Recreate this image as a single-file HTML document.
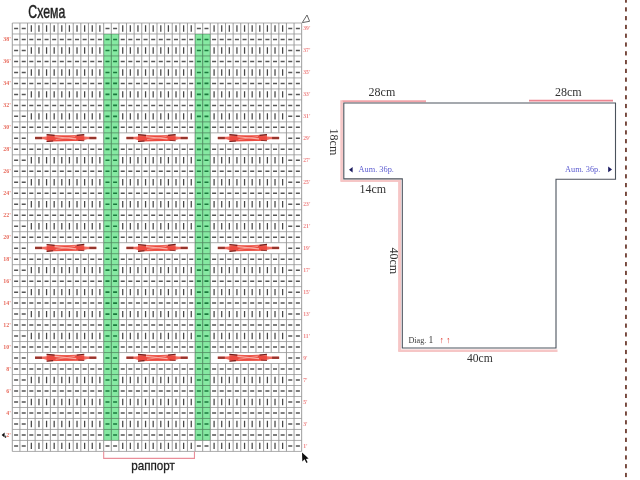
<!DOCTYPE html><html><head><meta charset="utf-8"><title>Схема</title>
<style>html,body{margin:0;padding:0;background:#fff;}body{width:640px;height:480px;overflow:hidden;font-family:"Liberation Sans",sans-serif;}svg{display:block;position:absolute;left:0;top:0;}text{font-family:"Liberation Serif",serif;}.ss{font-family:"Liberation Sans",sans-serif;}</style></head><body>
<svg width="640" height="480" viewBox="0 0 640 480">
<defs><filter id="b1" x="-5%" y="-5%" width="110%" height="110%"><feGaussianBlur stdDeviation="0.58"/></filter><filter id="b2" x="-20%" y="-50%" width="140%" height="200%"><feGaussianBlur stdDeviation="0.6"/></filter></defs>
<rect width="640" height="480" fill="#fff"/>
<g filter="url(#b1)">
<path d="M12.3 23H301.67M12.3 33.98H301.67M12.3 44.97H301.67M12.3 55.95H301.67M12.3 66.94H301.67M12.3 77.92H301.67M12.3 88.91H301.67M12.3 99.89H301.67M12.3 110.88H301.67M12.3 121.86H301.67M12.3 132.85H301.67M12.3 143.83H301.67M12.3 154.82H301.67M12.3 165.81H301.67M12.3 176.79H301.67M12.3 187.77H301.67M12.3 198.76H301.67M12.3 209.75H301.67M12.3 220.73H301.67M12.3 231.71H301.67M12.3 242.7H301.67M12.3 253.69H301.67M12.3 264.67H301.67M12.3 275.65H301.67M12.3 286.64H301.67M12.3 297.62H301.67M12.3 308.61H301.67M12.3 319.59H301.67M12.3 330.58H301.67M12.3 341.56H301.67M12.3 352.55H301.67M12.3 363.53H301.67M12.3 374.52H301.67M12.3 385.5H301.67M12.3 396.49H301.67M12.3 407.47H301.67M12.3 418.46H301.67M12.3 429.44H301.67M12.3 440.43H301.67M12.3 451.41H301.67" stroke="#adadad" stroke-width="1" fill="none"/>
<path d="M12.3 23V451.41M19.91 23V451.41M27.53 23V451.41M35.14 23V132.85M35.14 143.83V242.7M35.14 253.69V352.55M35.14 363.53V451.41M42.76 23V132.85M42.76 143.83V242.7M42.76 253.69V352.55M42.76 363.53V451.41M50.38 23V132.85M50.38 143.83V242.7M50.38 253.69V352.55M50.38 363.53V451.41M57.99 23V132.85M57.99 143.83V242.7M57.99 253.69V352.55M57.99 363.53V451.41M65.61 23V132.85M65.61 143.83V242.7M65.61 253.69V352.55M65.61 363.53V451.41M73.22 23V132.85M73.22 143.83V242.7M73.22 253.69V352.55M73.22 363.53V451.41M80.83 23V132.85M80.83 143.83V242.7M80.83 253.69V352.55M80.83 363.53V451.41M88.45 23V132.85M88.45 143.83V242.7M88.45 253.69V352.55M88.45 363.53V451.41M96.06 23V132.85M96.06 143.83V242.7M96.06 253.69V352.55M96.06 363.53V451.41M103.68 23V451.41M111.3 23V451.41M118.91 23V451.41M126.53 23V132.85M126.53 143.83V242.7M126.53 253.69V352.55M126.53 363.53V451.41M134.14 23V132.85M134.14 143.83V242.7M134.14 253.69V352.55M134.14 363.53V451.41M141.76 23V132.85M141.76 143.83V242.7M141.76 253.69V352.55M141.76 363.53V451.41M149.37 23V132.85M149.37 143.83V242.7M149.37 253.69V352.55M149.37 363.53V451.41M156.99 23V132.85M156.99 143.83V242.7M156.99 253.69V352.55M156.99 363.53V451.41M164.6 23V132.85M164.6 143.83V242.7M164.6 253.69V352.55M164.6 363.53V451.41M172.22 23V132.85M172.22 143.83V242.7M172.22 253.69V352.55M172.22 363.53V451.41M179.83 23V132.85M179.83 143.83V242.7M179.83 253.69V352.55M179.83 363.53V451.41M187.45 23V132.85M187.45 143.83V242.7M187.45 253.69V352.55M187.45 363.53V451.41M195.06 23V451.41M202.68 23V451.41M210.29 23V451.41M217.91 23V132.85M217.91 143.83V242.7M217.91 253.69V352.55M217.91 363.53V451.41M225.52 23V132.85M225.52 143.83V242.7M225.52 253.69V352.55M225.52 363.53V451.41M233.14 23V132.85M233.14 143.83V242.7M233.14 253.69V352.55M233.14 363.53V451.41M240.75 23V132.85M240.75 143.83V242.7M240.75 253.69V352.55M240.75 363.53V451.41M248.37 23V132.85M248.37 143.83V242.7M248.37 253.69V352.55M248.37 363.53V451.41M255.98 23V132.85M255.98 143.83V242.7M255.98 253.69V352.55M255.98 363.53V451.41M263.6 23V132.85M263.6 143.83V242.7M263.6 253.69V352.55M263.6 363.53V451.41M271.21 23V132.85M271.21 143.83V242.7M271.21 253.69V352.55M271.21 363.53V451.41M278.83 23V132.85M278.83 143.83V242.7M278.83 253.69V352.55M278.83 363.53V451.41M286.44 23V451.41M294.06 23V451.41M301.67 23V451.41" stroke="#989898" stroke-width="0.95" fill="none"/>
<path d="M14.11 28.49h4M21.72 28.49h4M105.49 28.49h4M113.1 28.49h4M196.87 28.49h4M204.48 28.49h4M288.25 28.49h4M295.86 28.49h4M14.11 39.48h4M21.72 39.48h4M29.34 39.48h4M36.95 39.48h4M44.57 39.48h4M52.18 39.48h4M59.8 39.48h4M67.41 39.48h4M75.03 39.48h4M82.64 39.48h4M90.26 39.48h4M97.87 39.48h4M120.72 39.48h4M128.33 39.48h4M135.95 39.48h4M143.56 39.48h4M151.18 39.48h4M158.79 39.48h4M166.41 39.48h4M174.02 39.48h4M181.64 39.48h4M189.25 39.48h4M212.1 39.48h4M219.71 39.48h4M227.33 39.48h4M234.94 39.48h4M242.56 39.48h4M250.17 39.48h4M257.79 39.48h4M265.4 39.48h4M273.02 39.48h4M280.63 39.48h4M288.25 39.48h4M295.86 39.48h4M14.11 50.46h4M21.72 50.46h4M288.25 50.46h4M295.86 50.46h4M14.11 61.45h4M21.72 61.45h4M29.34 61.45h4M36.95 61.45h4M44.57 61.45h4M52.18 61.45h4M59.8 61.45h4M67.41 61.45h4M75.03 61.45h4M82.64 61.45h4M90.26 61.45h4M97.87 61.45h4M120.72 61.45h4M128.33 61.45h4M135.95 61.45h4M143.56 61.45h4M151.18 61.45h4M158.79 61.45h4M166.41 61.45h4M174.02 61.45h4M181.64 61.45h4M189.25 61.45h4M212.1 61.45h4M219.71 61.45h4M227.33 61.45h4M234.94 61.45h4M242.56 61.45h4M250.17 61.45h4M257.79 61.45h4M265.4 61.45h4M273.02 61.45h4M280.63 61.45h4M288.25 61.45h4M295.86 61.45h4M14.11 72.43h4M21.72 72.43h4M288.25 72.43h4M295.86 72.43h4M14.11 83.42h4M21.72 83.42h4M29.34 83.42h4M36.95 83.42h4M44.57 83.42h4M52.18 83.42h4M59.8 83.42h4M67.41 83.42h4M75.03 83.42h4M82.64 83.42h4M90.26 83.42h4M97.87 83.42h4M120.72 83.42h4M128.33 83.42h4M135.95 83.42h4M143.56 83.42h4M151.18 83.42h4M158.79 83.42h4M166.41 83.42h4M174.02 83.42h4M181.64 83.42h4M189.25 83.42h4M212.1 83.42h4M219.71 83.42h4M227.33 83.42h4M234.94 83.42h4M242.56 83.42h4M250.17 83.42h4M257.79 83.42h4M265.4 83.42h4M273.02 83.42h4M280.63 83.42h4M288.25 83.42h4M295.86 83.42h4M14.11 94.4h4M21.72 94.4h4M288.25 94.4h4M295.86 94.4h4M14.11 105.39h4M21.72 105.39h4M29.34 105.39h4M36.95 105.39h4M44.57 105.39h4M52.18 105.39h4M59.8 105.39h4M67.41 105.39h4M75.03 105.39h4M82.64 105.39h4M90.26 105.39h4M97.87 105.39h4M120.72 105.39h4M128.33 105.39h4M135.95 105.39h4M143.56 105.39h4M151.18 105.39h4M158.79 105.39h4M166.41 105.39h4M174.02 105.39h4M181.64 105.39h4M189.25 105.39h4M212.1 105.39h4M219.71 105.39h4M227.33 105.39h4M234.94 105.39h4M242.56 105.39h4M250.17 105.39h4M257.79 105.39h4M265.4 105.39h4M273.02 105.39h4M280.63 105.39h4M288.25 105.39h4M295.86 105.39h4M14.11 116.37h4M21.72 116.37h4M288.25 116.37h4M295.86 116.37h4M14.11 127.36h4M21.72 127.36h4M29.34 127.36h4M36.95 127.36h4M44.57 127.36h4M52.18 127.36h4M59.8 127.36h4M67.41 127.36h4M75.03 127.36h4M82.64 127.36h4M90.26 127.36h4M97.87 127.36h4M120.72 127.36h4M128.33 127.36h4M135.95 127.36h4M143.56 127.36h4M151.18 127.36h4M158.79 127.36h4M166.41 127.36h4M174.02 127.36h4M181.64 127.36h4M189.25 127.36h4M212.1 127.36h4M219.71 127.36h4M227.33 127.36h4M234.94 127.36h4M242.56 127.36h4M250.17 127.36h4M257.79 127.36h4M265.4 127.36h4M273.02 127.36h4M280.63 127.36h4M288.25 127.36h4M295.86 127.36h4M14.11 138.34h4M21.72 138.34h4M288.25 138.34h4M295.86 138.34h4M14.11 149.33h4M21.72 149.33h4M29.34 149.33h4M36.95 149.33h4M44.57 149.33h4M52.18 149.33h4M59.8 149.33h4M67.41 149.33h4M75.03 149.33h4M82.64 149.33h4M90.26 149.33h4M97.87 149.33h4M120.72 149.33h4M128.33 149.33h4M135.95 149.33h4M143.56 149.33h4M151.18 149.33h4M158.79 149.33h4M166.41 149.33h4M174.02 149.33h4M181.64 149.33h4M189.25 149.33h4M212.1 149.33h4M219.71 149.33h4M227.33 149.33h4M234.94 149.33h4M242.56 149.33h4M250.17 149.33h4M257.79 149.33h4M265.4 149.33h4M273.02 149.33h4M280.63 149.33h4M288.25 149.33h4M295.86 149.33h4M14.11 160.31h4M21.72 160.31h4M288.25 160.31h4M295.86 160.31h4M14.11 171.3h4M21.72 171.3h4M29.34 171.3h4M36.95 171.3h4M44.57 171.3h4M52.18 171.3h4M59.8 171.3h4M67.41 171.3h4M75.03 171.3h4M82.64 171.3h4M90.26 171.3h4M97.87 171.3h4M120.72 171.3h4M128.33 171.3h4M135.95 171.3h4M143.56 171.3h4M151.18 171.3h4M158.79 171.3h4M166.41 171.3h4M174.02 171.3h4M181.64 171.3h4M189.25 171.3h4M212.1 171.3h4M219.71 171.3h4M227.33 171.3h4M234.94 171.3h4M242.56 171.3h4M250.17 171.3h4M257.79 171.3h4M265.4 171.3h4M273.02 171.3h4M280.63 171.3h4M288.25 171.3h4M295.86 171.3h4M14.11 182.28h4M21.72 182.28h4M288.25 182.28h4M295.86 182.28h4M14.11 193.27h4M21.72 193.27h4M29.34 193.27h4M36.95 193.27h4M44.57 193.27h4M52.18 193.27h4M59.8 193.27h4M67.41 193.27h4M75.03 193.27h4M82.64 193.27h4M90.26 193.27h4M97.87 193.27h4M120.72 193.27h4M128.33 193.27h4M135.95 193.27h4M143.56 193.27h4M151.18 193.27h4M158.79 193.27h4M166.41 193.27h4M174.02 193.27h4M181.64 193.27h4M189.25 193.27h4M212.1 193.27h4M219.71 193.27h4M227.33 193.27h4M234.94 193.27h4M242.56 193.27h4M250.17 193.27h4M257.79 193.27h4M265.4 193.27h4M273.02 193.27h4M280.63 193.27h4M288.25 193.27h4M295.86 193.27h4M14.11 204.25h4M21.72 204.25h4M288.25 204.25h4M295.86 204.25h4M14.11 215.24h4M21.72 215.24h4M29.34 215.24h4M36.95 215.24h4M44.57 215.24h4M52.18 215.24h4M59.8 215.24h4M67.41 215.24h4M75.03 215.24h4M82.64 215.24h4M90.26 215.24h4M97.87 215.24h4M120.72 215.24h4M128.33 215.24h4M135.95 215.24h4M143.56 215.24h4M151.18 215.24h4M158.79 215.24h4M166.41 215.24h4M174.02 215.24h4M181.64 215.24h4M189.25 215.24h4M212.1 215.24h4M219.71 215.24h4M227.33 215.24h4M234.94 215.24h4M242.56 215.24h4M250.17 215.24h4M257.79 215.24h4M265.4 215.24h4M273.02 215.24h4M280.63 215.24h4M288.25 215.24h4M295.86 215.24h4M14.11 226.22h4M21.72 226.22h4M288.25 226.22h4M295.86 226.22h4M14.11 237.21h4M21.72 237.21h4M29.34 237.21h4M36.95 237.21h4M44.57 237.21h4M52.18 237.21h4M59.8 237.21h4M67.41 237.21h4M75.03 237.21h4M82.64 237.21h4M90.26 237.21h4M97.87 237.21h4M120.72 237.21h4M128.33 237.21h4M135.95 237.21h4M143.56 237.21h4M151.18 237.21h4M158.79 237.21h4M166.41 237.21h4M174.02 237.21h4M181.64 237.21h4M189.25 237.21h4M212.1 237.21h4M219.71 237.21h4M227.33 237.21h4M234.94 237.21h4M242.56 237.21h4M250.17 237.21h4M257.79 237.21h4M265.4 237.21h4M273.02 237.21h4M280.63 237.21h4M288.25 237.21h4M295.86 237.21h4M14.11 248.19h4M21.72 248.19h4M288.25 248.19h4M295.86 248.19h4M14.11 259.18h4M21.72 259.18h4M29.34 259.18h4M36.95 259.18h4M44.57 259.18h4M52.18 259.18h4M59.8 259.18h4M67.41 259.18h4M75.03 259.18h4M82.64 259.18h4M90.26 259.18h4M97.87 259.18h4M120.72 259.18h4M128.33 259.18h4M135.95 259.18h4M143.56 259.18h4M151.18 259.18h4M158.79 259.18h4M166.41 259.18h4M174.02 259.18h4M181.64 259.18h4M189.25 259.18h4M212.1 259.18h4M219.71 259.18h4M227.33 259.18h4M234.94 259.18h4M242.56 259.18h4M250.17 259.18h4M257.79 259.18h4M265.4 259.18h4M273.02 259.18h4M280.63 259.18h4M288.25 259.18h4M295.86 259.18h4M14.11 270.16h4M21.72 270.16h4M288.25 270.16h4M295.86 270.16h4M14.11 281.15h4M21.72 281.15h4M29.34 281.15h4M36.95 281.15h4M44.57 281.15h4M52.18 281.15h4M59.8 281.15h4M67.41 281.15h4M75.03 281.15h4M82.64 281.15h4M90.26 281.15h4M97.87 281.15h4M120.72 281.15h4M128.33 281.15h4M135.95 281.15h4M143.56 281.15h4M151.18 281.15h4M158.79 281.15h4M166.41 281.15h4M174.02 281.15h4M181.64 281.15h4M189.25 281.15h4M212.1 281.15h4M219.71 281.15h4M227.33 281.15h4M234.94 281.15h4M242.56 281.15h4M250.17 281.15h4M257.79 281.15h4M265.4 281.15h4M273.02 281.15h4M280.63 281.15h4M288.25 281.15h4M295.86 281.15h4M14.11 292.13h4M21.72 292.13h4M288.25 292.13h4M295.86 292.13h4M14.11 303.12h4M21.72 303.12h4M29.34 303.12h4M36.95 303.12h4M44.57 303.12h4M52.18 303.12h4M59.8 303.12h4M67.41 303.12h4M75.03 303.12h4M82.64 303.12h4M90.26 303.12h4M97.87 303.12h4M120.72 303.12h4M128.33 303.12h4M135.95 303.12h4M143.56 303.12h4M151.18 303.12h4M158.79 303.12h4M166.41 303.12h4M174.02 303.12h4M181.64 303.12h4M189.25 303.12h4M212.1 303.12h4M219.71 303.12h4M227.33 303.12h4M234.94 303.12h4M242.56 303.12h4M250.17 303.12h4M257.79 303.12h4M265.4 303.12h4M273.02 303.12h4M280.63 303.12h4M288.25 303.12h4M295.86 303.12h4M14.11 314.1h4M21.72 314.1h4M288.25 314.1h4M295.86 314.1h4M14.11 325.09h4M21.72 325.09h4M29.34 325.09h4M36.95 325.09h4M44.57 325.09h4M52.18 325.09h4M59.8 325.09h4M67.41 325.09h4M75.03 325.09h4M82.64 325.09h4M90.26 325.09h4M97.87 325.09h4M120.72 325.09h4M128.33 325.09h4M135.95 325.09h4M143.56 325.09h4M151.18 325.09h4M158.79 325.09h4M166.41 325.09h4M174.02 325.09h4M181.64 325.09h4M189.25 325.09h4M212.1 325.09h4M219.71 325.09h4M227.33 325.09h4M234.94 325.09h4M242.56 325.09h4M250.17 325.09h4M257.79 325.09h4M265.4 325.09h4M273.02 325.09h4M280.63 325.09h4M288.25 325.09h4M295.86 325.09h4M14.11 336.07h4M21.72 336.07h4M288.25 336.07h4M295.86 336.07h4M14.11 347.06h4M21.72 347.06h4M29.34 347.06h4M36.95 347.06h4M44.57 347.06h4M52.18 347.06h4M59.8 347.06h4M67.41 347.06h4M75.03 347.06h4M82.64 347.06h4M90.26 347.06h4M97.87 347.06h4M120.72 347.06h4M128.33 347.06h4M135.95 347.06h4M143.56 347.06h4M151.18 347.06h4M158.79 347.06h4M166.41 347.06h4M174.02 347.06h4M181.64 347.06h4M189.25 347.06h4M212.1 347.06h4M219.71 347.06h4M227.33 347.06h4M234.94 347.06h4M242.56 347.06h4M250.17 347.06h4M257.79 347.06h4M265.4 347.06h4M273.02 347.06h4M280.63 347.06h4M288.25 347.06h4M295.86 347.06h4M14.11 358.04h4M21.72 358.04h4M288.25 358.04h4M295.86 358.04h4M14.11 369.03h4M21.72 369.03h4M29.34 369.03h4M36.95 369.03h4M44.57 369.03h4M52.18 369.03h4M59.8 369.03h4M67.41 369.03h4M75.03 369.03h4M82.64 369.03h4M90.26 369.03h4M97.87 369.03h4M120.72 369.03h4M128.33 369.03h4M135.95 369.03h4M143.56 369.03h4M151.18 369.03h4M158.79 369.03h4M166.41 369.03h4M174.02 369.03h4M181.64 369.03h4M189.25 369.03h4M212.1 369.03h4M219.71 369.03h4M227.33 369.03h4M234.94 369.03h4M242.56 369.03h4M250.17 369.03h4M257.79 369.03h4M265.4 369.03h4M273.02 369.03h4M280.63 369.03h4M288.25 369.03h4M295.86 369.03h4M14.11 380.01h4M21.72 380.01h4M288.25 380.01h4M295.86 380.01h4M14.11 391h4M21.72 391h4M29.34 391h4M36.95 391h4M44.57 391h4M52.18 391h4M59.8 391h4M67.41 391h4M75.03 391h4M82.64 391h4M90.26 391h4M97.87 391h4M120.72 391h4M128.33 391h4M135.95 391h4M143.56 391h4M151.18 391h4M158.79 391h4M166.41 391h4M174.02 391h4M181.64 391h4M189.25 391h4M212.1 391h4M219.71 391h4M227.33 391h4M234.94 391h4M242.56 391h4M250.17 391h4M257.79 391h4M265.4 391h4M273.02 391h4M280.63 391h4M288.25 391h4M295.86 391h4M14.11 401.98h4M21.72 401.98h4M288.25 401.98h4M295.86 401.98h4M14.11 412.97h4M21.72 412.97h4M29.34 412.97h4M36.95 412.97h4M44.57 412.97h4M52.18 412.97h4M59.8 412.97h4M67.41 412.97h4M75.03 412.97h4M82.64 412.97h4M90.26 412.97h4M97.87 412.97h4M120.72 412.97h4M128.33 412.97h4M135.95 412.97h4M143.56 412.97h4M151.18 412.97h4M158.79 412.97h4M166.41 412.97h4M174.02 412.97h4M181.64 412.97h4M189.25 412.97h4M212.1 412.97h4M219.71 412.97h4M227.33 412.97h4M234.94 412.97h4M242.56 412.97h4M250.17 412.97h4M257.79 412.97h4M265.4 412.97h4M273.02 412.97h4M280.63 412.97h4M288.25 412.97h4M295.86 412.97h4M14.11 423.95h4M21.72 423.95h4M288.25 423.95h4M295.86 423.95h4M14.11 434.94h4M21.72 434.94h4M29.34 434.94h4M36.95 434.94h4M44.57 434.94h4M52.18 434.94h4M59.8 434.94h4M67.41 434.94h4M75.03 434.94h4M82.64 434.94h4M90.26 434.94h4M97.87 434.94h4M120.72 434.94h4M128.33 434.94h4M135.95 434.94h4M143.56 434.94h4M151.18 434.94h4M158.79 434.94h4M166.41 434.94h4M174.02 434.94h4M181.64 434.94h4M189.25 434.94h4M212.1 434.94h4M219.71 434.94h4M227.33 434.94h4M234.94 434.94h4M242.56 434.94h4M250.17 434.94h4M257.79 434.94h4M265.4 434.94h4M273.02 434.94h4M280.63 434.94h4M288.25 434.94h4M295.86 434.94h4M14.11 445.92h4M21.72 445.92h4M105.49 445.92h4M113.1 445.92h4M196.87 445.92h4M204.48 445.92h4M288.25 445.92h4M295.86 445.92h4" stroke="#545454" stroke-width="1.5" fill="none"/>
<path d="M31.34 25.29v6.4M38.95 25.29v6.4M46.57 25.29v6.4M54.18 25.29v6.4M61.8 25.29v6.4M69.41 25.29v6.4M77.03 25.29v6.4M84.64 25.29v6.4M92.26 25.29v6.4M99.87 25.29v6.4M122.72 25.29v6.4M130.33 25.29v6.4M137.95 25.29v6.4M145.56 25.29v6.4M153.18 25.29v6.4M160.79 25.29v6.4M168.41 25.29v6.4M176.02 25.29v6.4M183.64 25.29v6.4M191.25 25.29v6.4M214.1 25.29v6.4M221.71 25.29v6.4M229.33 25.29v6.4M236.94 25.29v6.4M244.56 25.29v6.4M252.17 25.29v6.4M259.79 25.29v6.4M267.4 25.29v6.4M275.02 25.29v6.4M282.63 25.29v6.4M31.34 47.26v6.4M38.95 47.26v6.4M46.57 47.26v6.4M54.18 47.26v6.4M61.8 47.26v6.4M69.41 47.26v6.4M77.03 47.26v6.4M84.64 47.26v6.4M92.26 47.26v6.4M99.87 47.26v6.4M122.72 47.26v6.4M130.33 47.26v6.4M137.95 47.26v6.4M145.56 47.26v6.4M153.18 47.26v6.4M160.79 47.26v6.4M168.41 47.26v6.4M176.02 47.26v6.4M183.64 47.26v6.4M191.25 47.26v6.4M214.1 47.26v6.4M221.71 47.26v6.4M229.33 47.26v6.4M236.94 47.26v6.4M244.56 47.26v6.4M252.17 47.26v6.4M259.79 47.26v6.4M267.4 47.26v6.4M275.02 47.26v6.4M282.63 47.26v6.4M31.34 69.23v6.4M38.95 69.23v6.4M46.57 69.23v6.4M54.18 69.23v6.4M61.8 69.23v6.4M69.41 69.23v6.4M77.03 69.23v6.4M84.64 69.23v6.4M92.26 69.23v6.4M99.87 69.23v6.4M122.72 69.23v6.4M130.33 69.23v6.4M137.95 69.23v6.4M145.56 69.23v6.4M153.18 69.23v6.4M160.79 69.23v6.4M168.41 69.23v6.4M176.02 69.23v6.4M183.64 69.23v6.4M191.25 69.23v6.4M214.1 69.23v6.4M221.71 69.23v6.4M229.33 69.23v6.4M236.94 69.23v6.4M244.56 69.23v6.4M252.17 69.23v6.4M259.79 69.23v6.4M267.4 69.23v6.4M275.02 69.23v6.4M282.63 69.23v6.4M31.34 91.2v6.4M38.95 91.2v6.4M46.57 91.2v6.4M54.18 91.2v6.4M61.8 91.2v6.4M69.41 91.2v6.4M77.03 91.2v6.4M84.64 91.2v6.4M92.26 91.2v6.4M99.87 91.2v6.4M122.72 91.2v6.4M130.33 91.2v6.4M137.95 91.2v6.4M145.56 91.2v6.4M153.18 91.2v6.4M160.79 91.2v6.4M168.41 91.2v6.4M176.02 91.2v6.4M183.64 91.2v6.4M191.25 91.2v6.4M214.1 91.2v6.4M221.71 91.2v6.4M229.33 91.2v6.4M236.94 91.2v6.4M244.56 91.2v6.4M252.17 91.2v6.4M259.79 91.2v6.4M267.4 91.2v6.4M275.02 91.2v6.4M282.63 91.2v6.4M31.34 113.17v6.4M38.95 113.17v6.4M46.57 113.17v6.4M54.18 113.17v6.4M61.8 113.17v6.4M69.41 113.17v6.4M77.03 113.17v6.4M84.64 113.17v6.4M92.26 113.17v6.4M99.87 113.17v6.4M122.72 113.17v6.4M130.33 113.17v6.4M137.95 113.17v6.4M145.56 113.17v6.4M153.18 113.17v6.4M160.79 113.17v6.4M168.41 113.17v6.4M176.02 113.17v6.4M183.64 113.17v6.4M191.25 113.17v6.4M214.1 113.17v6.4M221.71 113.17v6.4M229.33 113.17v6.4M236.94 113.17v6.4M244.56 113.17v6.4M252.17 113.17v6.4M259.79 113.17v6.4M267.4 113.17v6.4M275.02 113.17v6.4M282.63 113.17v6.4M31.34 157.11v6.4M38.95 157.11v6.4M46.57 157.11v6.4M54.18 157.11v6.4M61.8 157.11v6.4M69.41 157.11v6.4M77.03 157.11v6.4M84.64 157.11v6.4M92.26 157.11v6.4M99.87 157.11v6.4M122.72 157.11v6.4M130.33 157.11v6.4M137.95 157.11v6.4M145.56 157.11v6.4M153.18 157.11v6.4M160.79 157.11v6.4M168.41 157.11v6.4M176.02 157.11v6.4M183.64 157.11v6.4M191.25 157.11v6.4M214.1 157.11v6.4M221.71 157.11v6.4M229.33 157.11v6.4M236.94 157.11v6.4M244.56 157.11v6.4M252.17 157.11v6.4M259.79 157.11v6.4M267.4 157.11v6.4M275.02 157.11v6.4M282.63 157.11v6.4M31.34 179.08v6.4M38.95 179.08v6.4M46.57 179.08v6.4M54.18 179.08v6.4M61.8 179.08v6.4M69.41 179.08v6.4M77.03 179.08v6.4M84.64 179.08v6.4M92.26 179.08v6.4M99.87 179.08v6.4M122.72 179.08v6.4M130.33 179.08v6.4M137.95 179.08v6.4M145.56 179.08v6.4M153.18 179.08v6.4M160.79 179.08v6.4M168.41 179.08v6.4M176.02 179.08v6.4M183.64 179.08v6.4M191.25 179.08v6.4M214.1 179.08v6.4M221.71 179.08v6.4M229.33 179.08v6.4M236.94 179.08v6.4M244.56 179.08v6.4M252.17 179.08v6.4M259.79 179.08v6.4M267.4 179.08v6.4M275.02 179.08v6.4M282.63 179.08v6.4M31.34 201.05v6.4M38.95 201.05v6.4M46.57 201.05v6.4M54.18 201.05v6.4M61.8 201.05v6.4M69.41 201.05v6.4M77.03 201.05v6.4M84.64 201.05v6.4M92.26 201.05v6.4M99.87 201.05v6.4M122.72 201.05v6.4M130.33 201.05v6.4M137.95 201.05v6.4M145.56 201.05v6.4M153.18 201.05v6.4M160.79 201.05v6.4M168.41 201.05v6.4M176.02 201.05v6.4M183.64 201.05v6.4M191.25 201.05v6.4M214.1 201.05v6.4M221.71 201.05v6.4M229.33 201.05v6.4M236.94 201.05v6.4M244.56 201.05v6.4M252.17 201.05v6.4M259.79 201.05v6.4M267.4 201.05v6.4M275.02 201.05v6.4M282.63 201.05v6.4M31.34 223.02v6.4M38.95 223.02v6.4M46.57 223.02v6.4M54.18 223.02v6.4M61.8 223.02v6.4M69.41 223.02v6.4M77.03 223.02v6.4M84.64 223.02v6.4M92.26 223.02v6.4M99.87 223.02v6.4M122.72 223.02v6.4M130.33 223.02v6.4M137.95 223.02v6.4M145.56 223.02v6.4M153.18 223.02v6.4M160.79 223.02v6.4M168.41 223.02v6.4M176.02 223.02v6.4M183.64 223.02v6.4M191.25 223.02v6.4M214.1 223.02v6.4M221.71 223.02v6.4M229.33 223.02v6.4M236.94 223.02v6.4M244.56 223.02v6.4M252.17 223.02v6.4M259.79 223.02v6.4M267.4 223.02v6.4M275.02 223.02v6.4M282.63 223.02v6.4M31.34 266.96v6.4M38.95 266.96v6.4M46.57 266.96v6.4M54.18 266.96v6.4M61.8 266.96v6.4M69.41 266.96v6.4M77.03 266.96v6.4M84.64 266.96v6.4M92.26 266.96v6.4M99.87 266.96v6.4M122.72 266.96v6.4M130.33 266.96v6.4M137.95 266.96v6.4M145.56 266.96v6.4M153.18 266.96v6.4M160.79 266.96v6.4M168.41 266.96v6.4M176.02 266.96v6.4M183.64 266.96v6.4M191.25 266.96v6.4M214.1 266.96v6.4M221.71 266.96v6.4M229.33 266.96v6.4M236.94 266.96v6.4M244.56 266.96v6.4M252.17 266.96v6.4M259.79 266.96v6.4M267.4 266.96v6.4M275.02 266.96v6.4M282.63 266.96v6.4M31.34 288.93v6.4M38.95 288.93v6.4M46.57 288.93v6.4M54.18 288.93v6.4M61.8 288.93v6.4M69.41 288.93v6.4M77.03 288.93v6.4M84.64 288.93v6.4M92.26 288.93v6.4M99.87 288.93v6.4M122.72 288.93v6.4M130.33 288.93v6.4M137.95 288.93v6.4M145.56 288.93v6.4M153.18 288.93v6.4M160.79 288.93v6.4M168.41 288.93v6.4M176.02 288.93v6.4M183.64 288.93v6.4M191.25 288.93v6.4M214.1 288.93v6.4M221.71 288.93v6.4M229.33 288.93v6.4M236.94 288.93v6.4M244.56 288.93v6.4M252.17 288.93v6.4M259.79 288.93v6.4M267.4 288.93v6.4M275.02 288.93v6.4M282.63 288.93v6.4M31.34 310.9v6.4M38.95 310.9v6.4M46.57 310.9v6.4M54.18 310.9v6.4M61.8 310.9v6.4M69.41 310.9v6.4M77.03 310.9v6.4M84.64 310.9v6.4M92.26 310.9v6.4M99.87 310.9v6.4M122.72 310.9v6.4M130.33 310.9v6.4M137.95 310.9v6.4M145.56 310.9v6.4M153.18 310.9v6.4M160.79 310.9v6.4M168.41 310.9v6.4M176.02 310.9v6.4M183.64 310.9v6.4M191.25 310.9v6.4M214.1 310.9v6.4M221.71 310.9v6.4M229.33 310.9v6.4M236.94 310.9v6.4M244.56 310.9v6.4M252.17 310.9v6.4M259.79 310.9v6.4M267.4 310.9v6.4M275.02 310.9v6.4M282.63 310.9v6.4M31.34 332.87v6.4M38.95 332.87v6.4M46.57 332.87v6.4M54.18 332.87v6.4M61.8 332.87v6.4M69.41 332.87v6.4M77.03 332.87v6.4M84.64 332.87v6.4M92.26 332.87v6.4M99.87 332.87v6.4M122.72 332.87v6.4M130.33 332.87v6.4M137.95 332.87v6.4M145.56 332.87v6.4M153.18 332.87v6.4M160.79 332.87v6.4M168.41 332.87v6.4M176.02 332.87v6.4M183.64 332.87v6.4M191.25 332.87v6.4M214.1 332.87v6.4M221.71 332.87v6.4M229.33 332.87v6.4M236.94 332.87v6.4M244.56 332.87v6.4M252.17 332.87v6.4M259.79 332.87v6.4M267.4 332.87v6.4M275.02 332.87v6.4M282.63 332.87v6.4M31.34 376.81v6.4M38.95 376.81v6.4M46.57 376.81v6.4M54.18 376.81v6.4M61.8 376.81v6.4M69.41 376.81v6.4M77.03 376.81v6.4M84.64 376.81v6.4M92.26 376.81v6.4M99.87 376.81v6.4M122.72 376.81v6.4M130.33 376.81v6.4M137.95 376.81v6.4M145.56 376.81v6.4M153.18 376.81v6.4M160.79 376.81v6.4M168.41 376.81v6.4M176.02 376.81v6.4M183.64 376.81v6.4M191.25 376.81v6.4M214.1 376.81v6.4M221.71 376.81v6.4M229.33 376.81v6.4M236.94 376.81v6.4M244.56 376.81v6.4M252.17 376.81v6.4M259.79 376.81v6.4M267.4 376.81v6.4M275.02 376.81v6.4M282.63 376.81v6.4M31.34 398.78v6.4M38.95 398.78v6.4M46.57 398.78v6.4M54.18 398.78v6.4M61.8 398.78v6.4M69.41 398.78v6.4M77.03 398.78v6.4M84.64 398.78v6.4M92.26 398.78v6.4M99.87 398.78v6.4M122.72 398.78v6.4M130.33 398.78v6.4M137.95 398.78v6.4M145.56 398.78v6.4M153.18 398.78v6.4M160.79 398.78v6.4M168.41 398.78v6.4M176.02 398.78v6.4M183.64 398.78v6.4M191.25 398.78v6.4M214.1 398.78v6.4M221.71 398.78v6.4M229.33 398.78v6.4M236.94 398.78v6.4M244.56 398.78v6.4M252.17 398.78v6.4M259.79 398.78v6.4M267.4 398.78v6.4M275.02 398.78v6.4M282.63 398.78v6.4M31.34 420.75v6.4M38.95 420.75v6.4M46.57 420.75v6.4M54.18 420.75v6.4M61.8 420.75v6.4M69.41 420.75v6.4M77.03 420.75v6.4M84.64 420.75v6.4M92.26 420.75v6.4M99.87 420.75v6.4M122.72 420.75v6.4M130.33 420.75v6.4M137.95 420.75v6.4M145.56 420.75v6.4M153.18 420.75v6.4M160.79 420.75v6.4M168.41 420.75v6.4M176.02 420.75v6.4M183.64 420.75v6.4M191.25 420.75v6.4M214.1 420.75v6.4M221.71 420.75v6.4M229.33 420.75v6.4M236.94 420.75v6.4M244.56 420.75v6.4M252.17 420.75v6.4M259.79 420.75v6.4M267.4 420.75v6.4M275.02 420.75v6.4M282.63 420.75v6.4M31.34 442.72v6.4M38.95 442.72v6.4M46.57 442.72v6.4M54.18 442.72v6.4M61.8 442.72v6.4M69.41 442.72v6.4M77.03 442.72v6.4M84.64 442.72v6.4M92.26 442.72v6.4M99.87 442.72v6.4M122.72 442.72v6.4M130.33 442.72v6.4M137.95 442.72v6.4M145.56 442.72v6.4M153.18 442.72v6.4M160.79 442.72v6.4M168.41 442.72v6.4M176.02 442.72v6.4M183.64 442.72v6.4M191.25 442.72v6.4M214.1 442.72v6.4M221.71 442.72v6.4M229.33 442.72v6.4M236.94 442.72v6.4M244.56 442.72v6.4M252.17 442.72v6.4M259.79 442.72v6.4M267.4 442.72v6.4M275.02 442.72v6.4M282.63 442.72v6.4" stroke="#464646" stroke-width="1.25" fill="none"/>
<rect x="103.68" y="33.98" width="15.23" height="406.44" fill="#86e9a2" style="mix-blend-mode:multiply"/>
<rect x="195.06" y="33.98" width="15.23" height="406.44" fill="#86e9a2" style="mix-blend-mode:multiply"/>
<path d="M105.49 39.48h4M113.1 39.48h4M196.87 39.48h4M204.48 39.48h4M105.49 50.46h4M113.1 50.46h4M196.87 50.46h4M204.48 50.46h4M105.49 61.45h4M113.1 61.45h4M196.87 61.45h4M204.48 61.45h4M105.49 72.43h4M113.1 72.43h4M196.87 72.43h4M204.48 72.43h4M105.49 83.42h4M113.1 83.42h4M196.87 83.42h4M204.48 83.42h4M105.49 94.4h4M113.1 94.4h4M196.87 94.4h4M204.48 94.4h4M105.49 105.39h4M113.1 105.39h4M196.87 105.39h4M204.48 105.39h4M105.49 116.37h4M113.1 116.37h4M196.87 116.37h4M204.48 116.37h4M105.49 127.36h4M113.1 127.36h4M196.87 127.36h4M204.48 127.36h4M105.49 138.34h4M113.1 138.34h4M196.87 138.34h4M204.48 138.34h4M105.49 149.33h4M113.1 149.33h4M196.87 149.33h4M204.48 149.33h4M105.49 160.31h4M113.1 160.31h4M196.87 160.31h4M204.48 160.31h4M105.49 171.3h4M113.1 171.3h4M196.87 171.3h4M204.48 171.3h4M105.49 182.28h4M113.1 182.28h4M196.87 182.28h4M204.48 182.28h4M105.49 193.27h4M113.1 193.27h4M196.87 193.27h4M204.48 193.27h4M105.49 204.25h4M113.1 204.25h4M196.87 204.25h4M204.48 204.25h4M105.49 215.24h4M113.1 215.24h4M196.87 215.24h4M204.48 215.24h4M105.49 226.22h4M113.1 226.22h4M196.87 226.22h4M204.48 226.22h4M105.49 237.21h4M113.1 237.21h4M196.87 237.21h4M204.48 237.21h4M105.49 248.19h4M113.1 248.19h4M196.87 248.19h4M204.48 248.19h4M105.49 259.18h4M113.1 259.18h4M196.87 259.18h4M204.48 259.18h4M105.49 270.16h4M113.1 270.16h4M196.87 270.16h4M204.48 270.16h4M105.49 281.15h4M113.1 281.15h4M196.87 281.15h4M204.48 281.15h4M105.49 292.13h4M113.1 292.13h4M196.87 292.13h4M204.48 292.13h4M105.49 303.12h4M113.1 303.12h4M196.87 303.12h4M204.48 303.12h4M105.49 314.1h4M113.1 314.1h4M196.87 314.1h4M204.48 314.1h4M105.49 325.09h4M113.1 325.09h4M196.87 325.09h4M204.48 325.09h4M105.49 336.07h4M113.1 336.07h4M196.87 336.07h4M204.48 336.07h4M105.49 347.06h4M113.1 347.06h4M196.87 347.06h4M204.48 347.06h4M105.49 358.04h4M113.1 358.04h4M196.87 358.04h4M204.48 358.04h4M105.49 369.03h4M113.1 369.03h4M196.87 369.03h4M204.48 369.03h4M105.49 380.01h4M113.1 380.01h4M196.87 380.01h4M204.48 380.01h4M105.49 391h4M113.1 391h4M196.87 391h4M204.48 391h4M105.49 401.98h4M113.1 401.98h4M196.87 401.98h4M204.48 401.98h4M105.49 412.97h4M113.1 412.97h4M196.87 412.97h4M204.48 412.97h4M105.49 423.95h4M113.1 423.95h4M196.87 423.95h4M204.48 423.95h4M105.49 434.94h4M113.1 434.94h4M196.87 434.94h4M204.48 434.94h4" stroke="#1b7a3e" stroke-width="1.6" fill="none"/>
</g>
<g filter="url(#b2)">
<path d="M96.33 136.79 87.23 136.79 81.23 136.34 46.63 134.54 46.63 141.64 81.23 140.74 87.23 139.29 96.33 139.29Z" fill="#ea4236" opacity="0.78"/>
<path d="M35.03 136.79 43.63 136.79 49.63 136.34 84.23 134.44 84.23 140.94 49.63 140.94 43.63 139.29 35.03 139.29Z" fill="#ea4236" opacity="0.78"/>
<path d="M54.63 136.74 76.23 138.94" stroke="#fbb9b0" stroke-width="1.2" fill="none" opacity="0.9"/>
<path d="M55.63 139.64 75.23 136.54" stroke="#f9a9a0" stroke-width="0.9" fill="none" opacity="0.8"/>
<path d="M46.63 134.64 54.63 135.44" stroke="#6e1c1a" stroke-width="1.2" fill="none"/>
<path d="M46.63 141.54 53.13 140.94" stroke="#6e1c1a" stroke-width="1.1" fill="none"/>
<path d="M76.73 135.44 84.23 134.54" stroke="#6e1c1a" stroke-width="1.2" fill="none"/>
<path d="M78.23 140.34 84.23 140.84" stroke="#6e1c1a" stroke-width="1" fill="none" opacity="0.7"/>
<path d="M35.03 138.04 42.03 138.04" stroke="#6e1c1a" stroke-width="2.2" fill="none" opacity="0.7"/>
<path d="M89.33 138.04 96.33 138.04" stroke="#6e1c1a" stroke-width="2.2" fill="none" opacity="0.7"/>
<path d="M187.71 136.79 178.61 136.79 172.61 136.34 138.01 134.54 138.01 141.64 172.61 140.74 178.61 139.29 187.71 139.29Z" fill="#ea4236" opacity="0.78"/>
<path d="M126.41 136.79 135.01 136.79 141.01 136.34 175.61 134.44 175.61 140.94 141.01 140.94 135.01 139.29 126.41 139.29Z" fill="#ea4236" opacity="0.78"/>
<path d="M146.01 136.74 167.61 138.94" stroke="#fbb9b0" stroke-width="1.2" fill="none" opacity="0.9"/>
<path d="M147.01 139.64 166.61 136.54" stroke="#f9a9a0" stroke-width="0.9" fill="none" opacity="0.8"/>
<path d="M138.01 134.64 146.01 135.44" stroke="#6e1c1a" stroke-width="1.2" fill="none"/>
<path d="M138.01 141.54 144.51 140.94" stroke="#6e1c1a" stroke-width="1.1" fill="none"/>
<path d="M168.11 135.44 175.61 134.54" stroke="#6e1c1a" stroke-width="1.2" fill="none"/>
<path d="M169.61 140.34 175.61 140.84" stroke="#6e1c1a" stroke-width="1" fill="none" opacity="0.7"/>
<path d="M126.41 138.04 133.41 138.04" stroke="#6e1c1a" stroke-width="2.2" fill="none" opacity="0.7"/>
<path d="M180.71 138.04 187.71 138.04" stroke="#6e1c1a" stroke-width="2.2" fill="none" opacity="0.7"/>
<path d="M279.09 136.79 269.99 136.79 263.99 136.34 229.39 134.54 229.39 141.64 263.99 140.74 269.99 139.29 279.09 139.29Z" fill="#ea4236" opacity="0.78"/>
<path d="M217.79 136.79 226.39 136.79 232.39 136.34 266.99 134.44 266.99 140.94 232.39 140.94 226.39 139.29 217.79 139.29Z" fill="#ea4236" opacity="0.78"/>
<path d="M237.39 136.74 258.99 138.94" stroke="#fbb9b0" stroke-width="1.2" fill="none" opacity="0.9"/>
<path d="M238.39 139.64 257.99 136.54" stroke="#f9a9a0" stroke-width="0.9" fill="none" opacity="0.8"/>
<path d="M229.39 134.64 237.39 135.44" stroke="#6e1c1a" stroke-width="1.2" fill="none"/>
<path d="M229.39 141.54 235.89 140.94" stroke="#6e1c1a" stroke-width="1.1" fill="none"/>
<path d="M259.49 135.44 266.99 134.54" stroke="#6e1c1a" stroke-width="1.2" fill="none"/>
<path d="M260.99 140.34 266.99 140.84" stroke="#6e1c1a" stroke-width="1" fill="none" opacity="0.7"/>
<path d="M217.79 138.04 224.79 138.04" stroke="#6e1c1a" stroke-width="2.2" fill="none" opacity="0.7"/>
<path d="M272.09 138.04 279.09 138.04" stroke="#6e1c1a" stroke-width="2.2" fill="none" opacity="0.7"/>
<path d="M96.33 246.64 87.23 246.64 81.23 246.19 46.63 244.39 46.63 251.49 81.23 250.59 87.23 249.14 96.33 249.14Z" fill="#ea4236" opacity="0.78"/>
<path d="M35.03 246.64 43.63 246.64 49.63 246.19 84.23 244.29 84.23 250.79 49.63 250.79 43.63 249.14 35.03 249.14Z" fill="#ea4236" opacity="0.78"/>
<path d="M54.63 246.59 76.23 248.79" stroke="#fbb9b0" stroke-width="1.2" fill="none" opacity="0.9"/>
<path d="M55.63 249.49 75.23 246.39" stroke="#f9a9a0" stroke-width="0.9" fill="none" opacity="0.8"/>
<path d="M46.63 244.49 54.63 245.29" stroke="#6e1c1a" stroke-width="1.2" fill="none"/>
<path d="M46.63 251.39 53.13 250.79" stroke="#6e1c1a" stroke-width="1.1" fill="none"/>
<path d="M76.73 245.29 84.23 244.39" stroke="#6e1c1a" stroke-width="1.2" fill="none"/>
<path d="M78.23 250.19 84.23 250.69" stroke="#6e1c1a" stroke-width="1" fill="none" opacity="0.7"/>
<path d="M35.03 247.89 42.03 247.89" stroke="#6e1c1a" stroke-width="2.2" fill="none" opacity="0.7"/>
<path d="M89.33 247.89 96.33 247.89" stroke="#6e1c1a" stroke-width="2.2" fill="none" opacity="0.7"/>
<path d="M187.71 246.64 178.61 246.64 172.61 246.19 138.01 244.39 138.01 251.49 172.61 250.59 178.61 249.14 187.71 249.14Z" fill="#ea4236" opacity="0.78"/>
<path d="M126.41 246.64 135.01 246.64 141.01 246.19 175.61 244.29 175.61 250.79 141.01 250.79 135.01 249.14 126.41 249.14Z" fill="#ea4236" opacity="0.78"/>
<path d="M146.01 246.59 167.61 248.79" stroke="#fbb9b0" stroke-width="1.2" fill="none" opacity="0.9"/>
<path d="M147.01 249.49 166.61 246.39" stroke="#f9a9a0" stroke-width="0.9" fill="none" opacity="0.8"/>
<path d="M138.01 244.49 146.01 245.29" stroke="#6e1c1a" stroke-width="1.2" fill="none"/>
<path d="M138.01 251.39 144.51 250.79" stroke="#6e1c1a" stroke-width="1.1" fill="none"/>
<path d="M168.11 245.29 175.61 244.39" stroke="#6e1c1a" stroke-width="1.2" fill="none"/>
<path d="M169.61 250.19 175.61 250.69" stroke="#6e1c1a" stroke-width="1" fill="none" opacity="0.7"/>
<path d="M126.41 247.89 133.41 247.89" stroke="#6e1c1a" stroke-width="2.2" fill="none" opacity="0.7"/>
<path d="M180.71 247.89 187.71 247.89" stroke="#6e1c1a" stroke-width="2.2" fill="none" opacity="0.7"/>
<path d="M279.09 246.64 269.99 246.64 263.99 246.19 229.39 244.39 229.39 251.49 263.99 250.59 269.99 249.14 279.09 249.14Z" fill="#ea4236" opacity="0.78"/>
<path d="M217.79 246.64 226.39 246.64 232.39 246.19 266.99 244.29 266.99 250.79 232.39 250.79 226.39 249.14 217.79 249.14Z" fill="#ea4236" opacity="0.78"/>
<path d="M237.39 246.59 258.99 248.79" stroke="#fbb9b0" stroke-width="1.2" fill="none" opacity="0.9"/>
<path d="M238.39 249.49 257.99 246.39" stroke="#f9a9a0" stroke-width="0.9" fill="none" opacity="0.8"/>
<path d="M229.39 244.49 237.39 245.29" stroke="#6e1c1a" stroke-width="1.2" fill="none"/>
<path d="M229.39 251.39 235.89 250.79" stroke="#6e1c1a" stroke-width="1.1" fill="none"/>
<path d="M259.49 245.29 266.99 244.39" stroke="#6e1c1a" stroke-width="1.2" fill="none"/>
<path d="M260.99 250.19 266.99 250.69" stroke="#6e1c1a" stroke-width="1" fill="none" opacity="0.7"/>
<path d="M217.79 247.89 224.79 247.89" stroke="#6e1c1a" stroke-width="2.2" fill="none" opacity="0.7"/>
<path d="M272.09 247.89 279.09 247.89" stroke="#6e1c1a" stroke-width="2.2" fill="none" opacity="0.7"/>
<path d="M96.33 356.49 87.23 356.49 81.23 356.04 46.63 354.24 46.63 361.34 81.23 360.44 87.23 358.99 96.33 358.99Z" fill="#ea4236" opacity="0.78"/>
<path d="M35.03 356.49 43.63 356.49 49.63 356.04 84.23 354.14 84.23 360.64 49.63 360.64 43.63 358.99 35.03 358.99Z" fill="#ea4236" opacity="0.78"/>
<path d="M54.63 356.44 76.23 358.64" stroke="#fbb9b0" stroke-width="1.2" fill="none" opacity="0.9"/>
<path d="M55.63 359.34 75.23 356.24" stroke="#f9a9a0" stroke-width="0.9" fill="none" opacity="0.8"/>
<path d="M46.63 354.34 54.63 355.14" stroke="#6e1c1a" stroke-width="1.2" fill="none"/>
<path d="M46.63 361.24 53.13 360.64" stroke="#6e1c1a" stroke-width="1.1" fill="none"/>
<path d="M76.73 355.14 84.23 354.24" stroke="#6e1c1a" stroke-width="1.2" fill="none"/>
<path d="M78.23 360.04 84.23 360.54" stroke="#6e1c1a" stroke-width="1" fill="none" opacity="0.7"/>
<path d="M35.03 357.74 42.03 357.74" stroke="#6e1c1a" stroke-width="2.2" fill="none" opacity="0.7"/>
<path d="M89.33 357.74 96.33 357.74" stroke="#6e1c1a" stroke-width="2.2" fill="none" opacity="0.7"/>
<path d="M187.71 356.49 178.61 356.49 172.61 356.04 138.01 354.24 138.01 361.34 172.61 360.44 178.61 358.99 187.71 358.99Z" fill="#ea4236" opacity="0.78"/>
<path d="M126.41 356.49 135.01 356.49 141.01 356.04 175.61 354.14 175.61 360.64 141.01 360.64 135.01 358.99 126.41 358.99Z" fill="#ea4236" opacity="0.78"/>
<path d="M146.01 356.44 167.61 358.64" stroke="#fbb9b0" stroke-width="1.2" fill="none" opacity="0.9"/>
<path d="M147.01 359.34 166.61 356.24" stroke="#f9a9a0" stroke-width="0.9" fill="none" opacity="0.8"/>
<path d="M138.01 354.34 146.01 355.14" stroke="#6e1c1a" stroke-width="1.2" fill="none"/>
<path d="M138.01 361.24 144.51 360.64" stroke="#6e1c1a" stroke-width="1.1" fill="none"/>
<path d="M168.11 355.14 175.61 354.24" stroke="#6e1c1a" stroke-width="1.2" fill="none"/>
<path d="M169.61 360.04 175.61 360.54" stroke="#6e1c1a" stroke-width="1" fill="none" opacity="0.7"/>
<path d="M126.41 357.74 133.41 357.74" stroke="#6e1c1a" stroke-width="2.2" fill="none" opacity="0.7"/>
<path d="M180.71 357.74 187.71 357.74" stroke="#6e1c1a" stroke-width="2.2" fill="none" opacity="0.7"/>
<path d="M279.09 356.49 269.99 356.49 263.99 356.04 229.39 354.24 229.39 361.34 263.99 360.44 269.99 358.99 279.09 358.99Z" fill="#ea4236" opacity="0.78"/>
<path d="M217.79 356.49 226.39 356.49 232.39 356.04 266.99 354.14 266.99 360.64 232.39 360.64 226.39 358.99 217.79 358.99Z" fill="#ea4236" opacity="0.78"/>
<path d="M237.39 356.44 258.99 358.64" stroke="#fbb9b0" stroke-width="1.2" fill="none" opacity="0.9"/>
<path d="M238.39 359.34 257.99 356.24" stroke="#f9a9a0" stroke-width="0.9" fill="none" opacity="0.8"/>
<path d="M229.39 354.34 237.39 355.14" stroke="#6e1c1a" stroke-width="1.2" fill="none"/>
<path d="M229.39 361.24 235.89 360.64" stroke="#6e1c1a" stroke-width="1.1" fill="none"/>
<path d="M259.49 355.14 266.99 354.24" stroke="#6e1c1a" stroke-width="1.2" fill="none"/>
<path d="M260.99 360.04 266.99 360.54" stroke="#6e1c1a" stroke-width="1" fill="none" opacity="0.7"/>
<path d="M217.79 357.74 224.79 357.74" stroke="#6e1c1a" stroke-width="2.2" fill="none" opacity="0.7"/>
<path d="M272.09 357.74 279.09 357.74" stroke="#6e1c1a" stroke-width="2.2" fill="none" opacity="0.7"/>
</g>
<g font-size="5.9" font-weight="bold" fill="#e4503f" filter="url(#b2)" opacity="0.85">
<text x="303.3" y="30.49" fill="#ec6c6c" font-size="5.6">39'</text>
<text x="10.9" y="41.48" text-anchor="end">38'</text>
<text x="303.3" y="52.46" fill="#ec6c6c" font-size="5.6">37'</text>
<text x="10.9" y="63.45" text-anchor="end">36'</text>
<text x="303.3" y="74.43" fill="#ec6c6c" font-size="5.6">35'</text>
<text x="10.9" y="85.42" text-anchor="end">34'</text>
<text x="303.3" y="96.4" fill="#ec6c6c" font-size="5.6">33'</text>
<text x="10.9" y="107.39" text-anchor="end">32'</text>
<text x="303.3" y="118.37" fill="#ec6c6c" font-size="5.6">31'</text>
<text x="10.9" y="129.36" text-anchor="end">30'</text>
<text x="303.3" y="140.34" fill="#ec6c6c" font-size="5.6">29'</text>
<text x="10.9" y="151.33" text-anchor="end">28'</text>
<text x="303.3" y="162.31" fill="#ec6c6c" font-size="5.6">27'</text>
<text x="10.9" y="173.3" text-anchor="end">26'</text>
<text x="303.3" y="184.28" fill="#ec6c6c" font-size="5.6">25'</text>
<text x="10.9" y="195.27" text-anchor="end">24'</text>
<text x="303.3" y="206.25" fill="#ec6c6c" font-size="5.6">23'</text>
<text x="10.9" y="217.24" text-anchor="end">22'</text>
<text x="303.3" y="228.22" fill="#ec6c6c" font-size="5.6">21'</text>
<text x="10.9" y="239.21" text-anchor="end">20'</text>
<text x="303.3" y="250.19" fill="#ec6c6c" font-size="5.6">19'</text>
<text x="10.9" y="261.18" text-anchor="end">18'</text>
<text x="303.3" y="272.16" fill="#ec6c6c" font-size="5.6">17'</text>
<text x="10.9" y="283.15" text-anchor="end">16'</text>
<text x="303.3" y="294.13" fill="#ec6c6c" font-size="5.6">15'</text>
<text x="10.9" y="305.12" text-anchor="end">14'</text>
<text x="303.3" y="316.1" fill="#ec6c6c" font-size="5.6">13'</text>
<text x="10.9" y="327.09" text-anchor="end">12'</text>
<text x="303.3" y="338.07" fill="#ec6c6c" font-size="5.6">11'</text>
<text x="10.9" y="349.06" text-anchor="end">10'</text>
<text x="303.3" y="360.04" fill="#ec6c6c" font-size="5.6">9'</text>
<text x="10.9" y="371.03" text-anchor="end">8'</text>
<text x="303.3" y="382.01" fill="#ec6c6c" font-size="5.6">7'</text>
<text x="10.9" y="393" text-anchor="end">6'</text>
<text x="303.3" y="403.98" fill="#ec6c6c" font-size="5.6">5'</text>
<text x="10.9" y="414.97" text-anchor="end">4'</text>
<text x="303.3" y="425.95" fill="#ec6c6c" font-size="5.6">3'</text>
<text x="10.9" y="436.94" text-anchor="end">2'</text>
<text x="303.3" y="447.92" fill="#ec6c6c" font-size="5.6">1'</text>
</g>
<path d="M103.68 451.41V458.4H194.46V451.41" stroke="#ea8e9a" stroke-width="1.1" fill="none" filter="url(#b1)"/>
<g filter="url(#b1)"><text class="ss" transform="translate(28.3 17.9) scale(0.66 1)" font-size="18.6" fill="#1e1e1e" stroke="#1e1e1e" stroke-width="0.45">Схема</text>
<text class="ss" transform="translate(131.3 470.2) scale(0.87 1)" font-size="13.4" fill="#1e1e1e" stroke="#1e1e1e" stroke-width="0.3">раппорт</text></g>
<path d="M302.3 22.6L307 15L309.6 21.3Z" fill="#fff" stroke="#555" stroke-width="0.9" filter="url(#b1)"/>
<path d="M302 452.5L302.3 461.5L304.6 459.3L306.4 463L307.6 462.3L306 459L308.6 458.6Z" fill="#111" filter="url(#b1)"/>
<path d="M1.6 435L4.6 432.6V437.6Z" fill="#111" filter="url(#b1)"/><rect x="5.2" y="435.6" width="0.9" height="2.4" fill="#222"/>
<g filter="url(#b1)">
<path d="M342 101.2H426" stroke="#f2a4aa" stroke-width="2"/>
<path d="M529 100.6H613" stroke="#ec8490" stroke-width="1.7"/>
<path d="M341.6 100.2V180.6" stroke="#f6c6c6" stroke-width="2.6"/>
<path d="M340.4 180.9H401" stroke="#f6c6c6" stroke-width="2.4"/>
<path d="M399.6 180V351" stroke="#f6c6c6" stroke-width="3"/>
<path d="M398.2 350.7H557.5" stroke="#f6c6c6" stroke-width="2.6"/>
<path d="M343.8 103H615.5V179.2H556V348H402.3V178.9H343.8Z" stroke="#4c525c" stroke-width="1.1" fill="none"/>
</g>
<g font-size="12" fill="#333" filter="url(#b1)">
<text x="368.6" y="96.3">28cm</text>
<text x="555" y="95.6">28cm</text>
<text x="359.4" y="193.2">14cm</text>
<text x="467" y="361.6" font-size="11.6">40cm</text>
<text transform="translate(330.3 128.6) rotate(90)">18cm</text>
<text transform="translate(390 247.4) rotate(90)">40cm</text>
</g>
<g font-size="8.3" fill="#5c5cd0" filter="url(#b2)">
<text x="358.6" y="172.4">Aum. 36p.</text>
<text x="565" y="172.4">Aum. 36p.</text>
</g>
<path d="M349 169.8L352.6 167V172.6Z" fill="#1c1c60" filter="url(#b1)"/>
<path d="M612 169.4L608.2 166.6V172.2Z" fill="#1c1c60" filter="url(#b1)"/>
<g filter="url(#b2)"><text x="408.4" y="342.6" font-size="8.2" fill="#3a3a3a">Diag. <tspan font-size="9.6">1</tspan></text>
<text x="439.6" y="343.4" font-size="9" font-weight="bold" fill="#e03a30" class="ss" textLength="11">↑↑</text></g>
<g fill="#74463a" filter="url(#b1)"><rect x="625" y="-1.5" width="1.9" height="4.2"/><rect x="625" y="7.29" width="1.9" height="4.2"/><rect x="625" y="16.07" width="1.9" height="4.2"/><rect x="625" y="24.86" width="1.9" height="4.2"/><rect x="625" y="33.64" width="1.9" height="4.2"/><rect x="625" y="42.42" width="1.9" height="4.2"/><rect x="625" y="51.21" width="1.9" height="4.2"/><rect x="625" y="60" width="1.9" height="4.2"/><rect x="625" y="68.78" width="1.9" height="4.2"/><rect x="625" y="77.56" width="1.9" height="4.2"/><rect x="625" y="86.35" width="1.9" height="4.2"/><rect x="625" y="95.14" width="1.9" height="4.2"/><rect x="625" y="103.92" width="1.9" height="4.2"/><rect x="625" y="112.7" width="1.9" height="4.2"/><rect x="625" y="121.49" width="1.9" height="4.2"/><rect x="625" y="130.28" width="1.9" height="4.2"/><rect x="625" y="139.06" width="1.9" height="4.2"/><rect x="625" y="147.84" width="1.9" height="4.2"/><rect x="625" y="156.63" width="1.9" height="4.2"/><rect x="625" y="165.41" width="1.9" height="4.2"/><rect x="625" y="174.2" width="1.9" height="4.2"/><rect x="625" y="182.99" width="1.9" height="4.2"/><rect x="625" y="191.77" width="1.9" height="4.2"/><rect x="625" y="200.56" width="1.9" height="4.2"/><rect x="625" y="209.34" width="1.9" height="4.2"/><rect x="625" y="218.12" width="1.9" height="4.2"/><rect x="625" y="226.91" width="1.9" height="4.2"/><rect x="625" y="235.69" width="1.9" height="4.2"/><rect x="625" y="244.48" width="1.9" height="4.2"/><rect x="625" y="253.27" width="1.9" height="4.2"/><rect x="625" y="262.05" width="1.9" height="4.2"/><rect x="625" y="270.83" width="1.9" height="4.2"/><rect x="625" y="279.62" width="1.9" height="4.2"/><rect x="625" y="288.41" width="1.9" height="4.2"/><rect x="625" y="297.19" width="1.9" height="4.2"/><rect x="625" y="305.98" width="1.9" height="4.2"/><rect x="625" y="314.76" width="1.9" height="4.2"/><rect x="625" y="323.55" width="1.9" height="4.2"/><rect x="625" y="332.33" width="1.9" height="4.2"/><rect x="625" y="341.12" width="1.9" height="4.2"/><rect x="625" y="349.9" width="1.9" height="4.2"/><rect x="625" y="358.69" width="1.9" height="4.2"/><rect x="625" y="367.47" width="1.9" height="4.2"/><rect x="625" y="376.25" width="1.9" height="4.2"/><rect x="625" y="385.04" width="1.9" height="4.2"/><rect x="625" y="393.82" width="1.9" height="4.2"/><rect x="625" y="402.61" width="1.9" height="4.2"/><rect x="625" y="411.39" width="1.9" height="4.2"/><rect x="625" y="420.18" width="1.9" height="4.2"/><rect x="625" y="428.97" width="1.9" height="4.2"/><rect x="625" y="437.75" width="1.9" height="4.2"/><rect x="625" y="446.54" width="1.9" height="4.2"/><rect x="625" y="455.32" width="1.9" height="4.2"/><rect x="625" y="464.11" width="1.9" height="4.2"/><rect x="625" y="472.89" width="1.9" height="4.2"/></g>
</svg></body></html>
